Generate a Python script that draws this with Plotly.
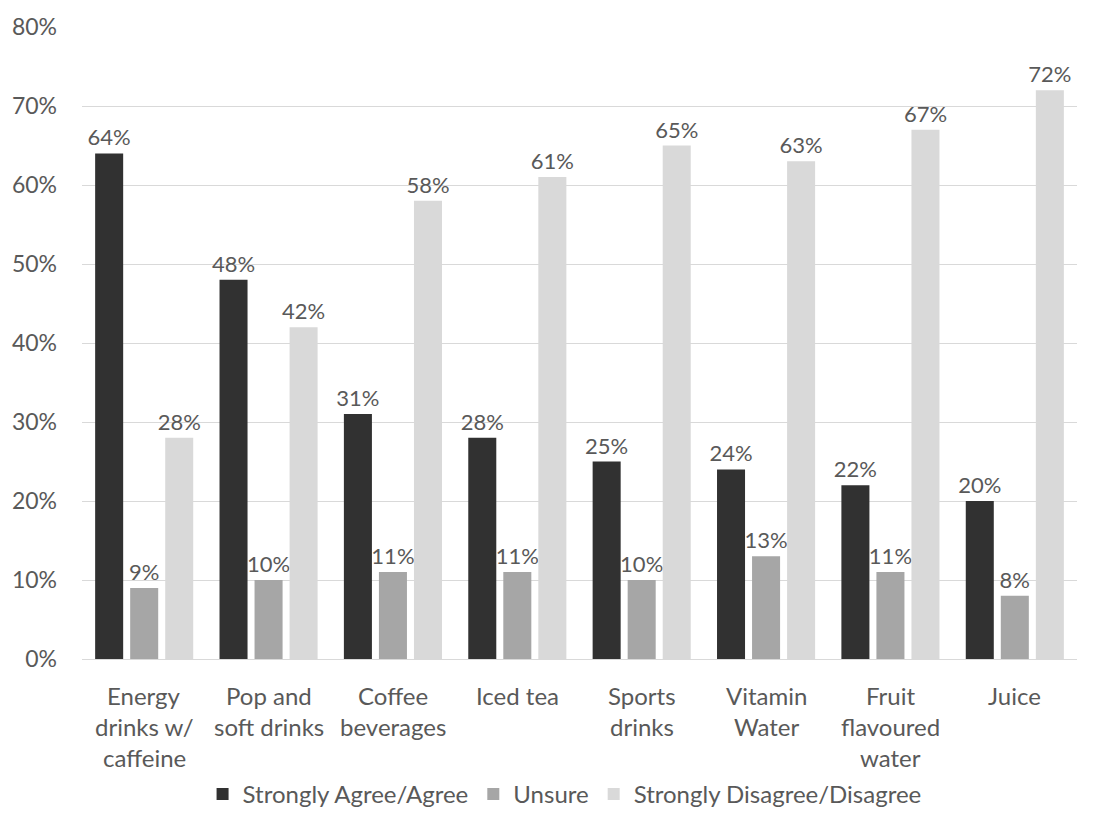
import plotly.graph_objects as go

categories = ["Energy<br>drinks w/<br>caffeine", "Pop and<br>soft drinks", "Coffee<br>beverages",
              "Iced tea", "Sports<br>drinks", "Vitamin<br>Water", "Fruit<br>flavoured<br>water", "Juice"]
agree = [64, 48, 31, 28, 25, 24, 22, 20]
unsure = [9, 10, 11, 11, 10, 13, 11, 8]
disagree = [28, 42, 58, 61, 65, 63, 67, 72]

series = [
    ("Strongly Agree/Agree", agree, "#313131"),
    ("Unsure", unsure, "#a6a6a6"),
    ("Strongly Disagree/Disagree", disagree, "#d9d9d9"),
]

FONT = "Lato"
TXT = "#595959"

fig = go.Figure()
for name, vals, color in series:
    fig.add_trace(go.Bar(
        x=list(range(len(categories))), y=[v / 100 for v in vals], name=name,
        marker=dict(color=color, line=dict(width=0)),
        text=[f"{v}%" for v in vals], textposition="outside",
        textfont=dict(family=FONT, size=22, color=TXT), cliponaxis=False,
    ))

# category labels, one annotation per line for wider line spacing
for i, label in enumerate(categories):
    for j, line in enumerate(label.split("<br>")):
        fig.add_annotation(x=i, y=0, xref="x", yref="y", text=line, showarrow=False,
                           yanchor="top", yshift=-20 - 31 * j,
                           font=dict(family=FONT, size=24, color=TXT))

fig.update_layout(
    width=1107, height=817,
    margin=dict(l=82, r=30, t=27, b=158),
    paper_bgcolor="white", plot_bgcolor="white",
    barmode="group", bargap=0.155, bargroupgap=0.2,
    font=dict(family=FONT, size=22, color=TXT),
    showlegend=True,
    legend=dict(orientation="h", x=0.51, xanchor="center", xref="container",
                y=-0.014, yanchor="bottom", yref="container",
                font=dict(family=FONT, size=24, color=TXT), itemwidth=30,
                traceorder="normal"),
    uniformtext=dict(minsize=22, mode="show"),
)
fig.update_xaxes(tickmode="array", tickvals=list(range(len(categories))),
                 ticktext=[""] * len(categories), range=[-0.5, len(categories) - 0.5],
                 showline=True, linecolor="#d9d9d9", linewidth=1, showgrid=False, ticks="")
fig.update_yaxes(range=[0, 0.8], dtick=0.1, tickformat=".0%", showgrid=True,
                 gridcolor="#d9d9d9", gridwidth=1, zeroline=False, showline=False,
                 ticks="", ticklabelstandoff=24,
                 tickfont=dict(family=FONT, size=23, color=TXT))

fig.write_html("out.html")
